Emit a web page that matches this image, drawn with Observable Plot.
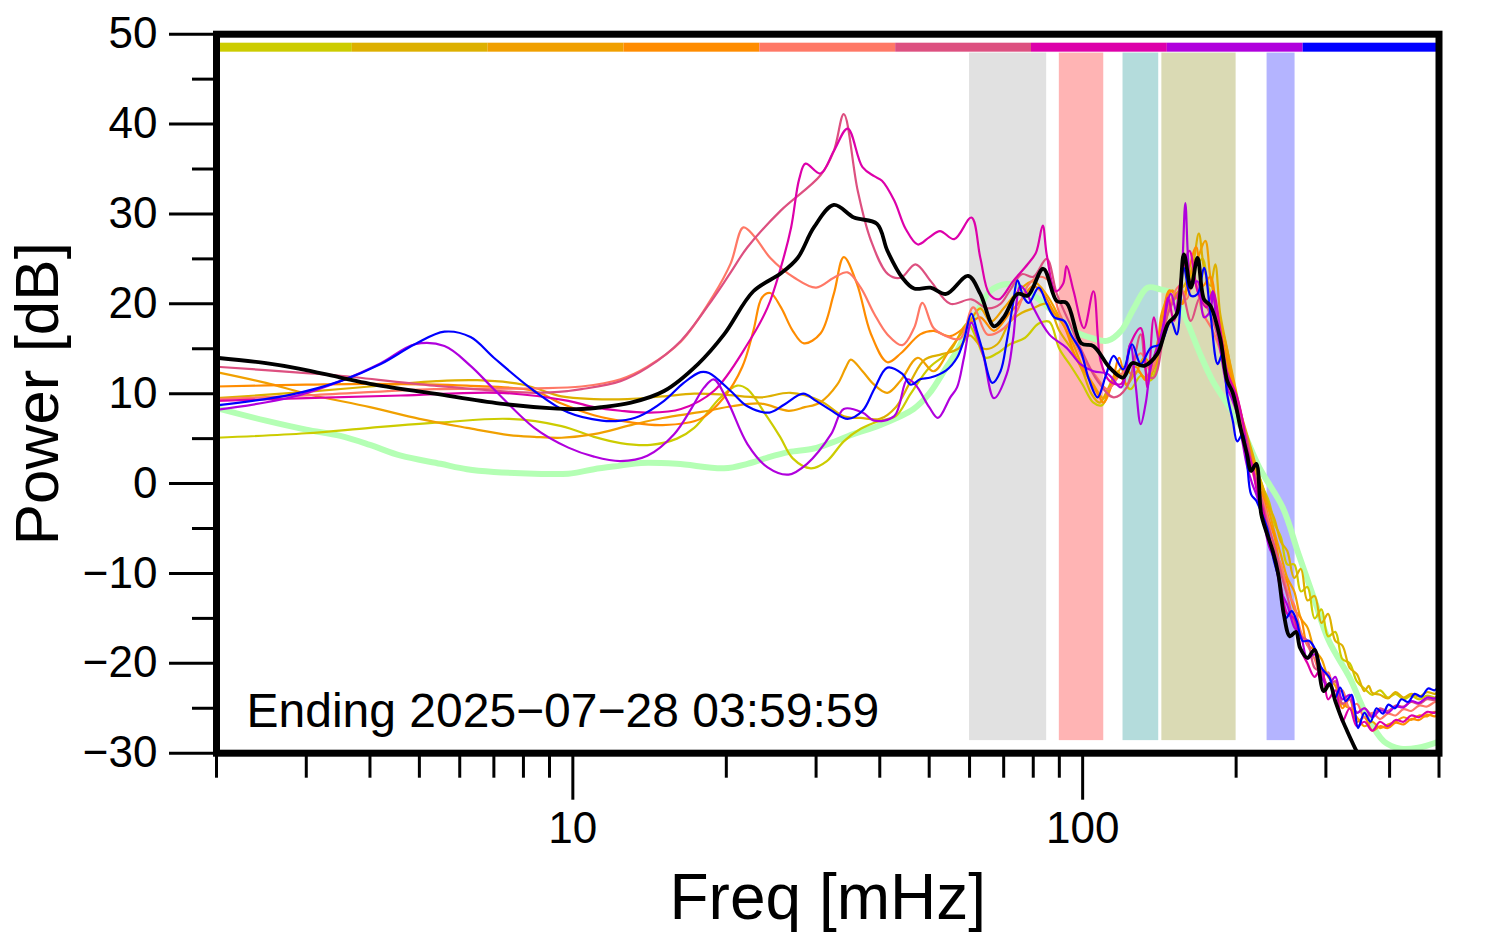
<!DOCTYPE html>
<html>
<head>
<meta charset="utf-8">
<script src="https://cdn.jsdelivr.net/npm/d3@7"></script>
<script src="https://cdn.jsdelivr.net/npm/@observablehq/plot@0.6"></script>
<style>
  html, body { margin: 0; padding: 0; background: #ffffff; }
  #chart svg { display: block; }
</style>
</head>
<body>
<div id="chart"></div>
<script>
// ---------------- data ----------------
const freqDomain = [2, 500];
const dbDomain = [-30, 50];
const yMajorTicks = [-30, -20, -10, 0, 10, 20, 30, 40, 50];
const yMinorTicks = [-25, -15, -5, 5, 15, 25, 35, 45];
const xMajorTicks = [10, 100];
const xMinorTicks = [2, 3, 4, 5, 6, 7, 8, 9, 20, 30, 40, 50, 60, 70, 80, 90, 200, 300, 400, 500];

const yLabel = "Power [dB]";
const xLabel = "Freq [mHz]";
const annotation = "Ending 2025\u221207\u221228 03:59:59";

// shaded frequency bands (mHz)
const bandLow = [60, 90, 120, 143, 230];
const bandHigh = [85, 110, 141, 200, 261];
const bandColors = ["#e1e1e1", "#ffb4b4", "#b4dcdc", "#dadab4", "#b4b4ff"];

// series colours (also the top colour strip, left to right)
const seriesNames = ["yellowGreen", "gold", "orange", "darkOrange", "salmon", "pink", "magenta", "purple", "blue"];
const seriesColors = ["#cccc00", "#ddb000", "#f0a000", "#ff8c00", "#ff7866", "#dd5080", "#dd00aa", "#b000dd", "#0000ff"];

const yellowGreen = [[2,5.1],[3,5.6],[4,6.2],[5.5,6.8],[7.5,7.2],[9.5,6.4],[11,5.2],[12.4,4.5],[14.2,4.3],[16,5],[17.3,6.2],[19.5,9.6],[21,10.9],[22,10.5],[24,7.5],[25.5,5.2],[27,2.8],[29.3,1.7],[31.5,2.5],[34,4.7],[36.7,6.1],[40,7],[43,7.5],[46,10],[50,12.9],[55,14.8],[59.5,17.8],[62,16],[64.5,14],[68,14.5],[72,15.5],[77,16.2],[82,17.8],[86,18],[90,15],[95,13],[100,11],[105,9],[109,8.7],[113,10.5],[118,12],[124,10.5],[130,12],[136,11.5],[142,15],[148,19.5],[154,21],[160,21.5],[166,24],[172,25],[176,22],[182,20],[188,16],[194,12],[200,9],[206,6.5],[210,5],[215,3],[220,1.5],[226,-0.5],[232,-2],[238,-4.5],[245,-6],[252,-9],[260,-9],[268,-12],[276,-11.5],[285,-15],[294,-14],[303,-17],[313,-16.5],[323,-19.5],[334,-20],[345,-22],[357,-22.8],[370,-23.5],[383,-23],[397,-23.8],[411,-23.4],[426,-24],[441,-23.6],[457,-24],[474,-23.6],[491,-23.8],[500,-23.5]];

const gold = [[2,9.5],[3,10.2],[4,10.8],[5.4,11.4],[6.5,11.5],[8,11],[9.5,9.7],[11,9.4],[12.8,9.4],[15,9.7],[17.3,10],[19.8,9.9],[23.4,9.6],[26.7,10.1],[30.6,9.2],[34,7.5],[36.7,7.3],[40,7.2],[43,8.5],[46,11.4],[49,13.8],[53,14.4],[57,15],[60,16.5],[64,15],[68,15.5],[72,18],[76,19],[80,19.5],[85,20],[90,17],[95,15],[100,12.5],[104,10],[108,9],[112,10.5],[117,12.5],[122,11],[128,12.5],[134,11.5],[140,14],[146,19],[152,21],[158,22],[164,24],[169,27.8],[173,24],[178,22],[182,24.4],[186,19],[192,15],[198,11],[204,8],[210,5.5],[215,3.5],[220,1.5],[226,-0.5],[232,-2.5],[238,-4],[245,-6.5],[252,-7.5],[260,-10.5],[268,-9.5],[276,-13],[285,-12.5],[294,-15.5],[303,-14.5],[313,-17.5],[323,-18],[334,-20.5],[345,-21.2],[357,-23.1],[364,-22.5],[370,-23.3],[383,-23.5],[397,-23.9],[411,-23.2],[426,-23.8],[441,-23.4],[457,-23.7],[474,-23.2],[491,-23.4],[500,-23.1]];

const orange = [[2,12.4],[2.5,11.2],[3,10],[4,8.5],[5,7.2],[6.2,6.2],[7.5,5.4],[8.4,5.2],[9.5,5.1],[11,5.5],[13,6.5],[15,7.3],[18,8.0],[20.5,8.6],[23.4,8.9],[26.5,8.1],[28.5,8.5],[30.5,9.0],[33,11],[34.3,12.9],[35.1,13.8],[37,12.5],[39,11],[41.4,10.1],[44,11.5],[47.5,14],[51,12.5],[55,15],[60,18],[63,19.5],[66,18],[70,19.5],[75,21.5],[80,22.5],[85,21],[90,18.5],[95,16],[100,13],[105,11],[110,9.5],[115,11.5],[120,13],[126,12],[132,14],[138,13],[143,19],[150,21.5],[156,20],[162,23],[168,25],[174,27],[178,23],[184,19],[190,16],[197,12],[204,8],[210,5],[215,3],[220,1],[226,-1],[232,-3],[238,-5.5],[245,-8],[252,-10.5],[260,-12],[268,-15],[276,-16],[285,-18.5],[294,-19.5],[303,-21.5],[313,-22.5],[323,-24.5],[334,-25],[345,-26],[357,-27],[370,-26.5],[383,-27.2],[397,-26.8],[411,-26.5],[426,-26],[441,-26.3],[457,-25.8],[474,-25.9],[491,-25.4],[500,-25.6]];

const darkOrange = [[2,10.8],[3,11],[4,11.1],[6.2,10.9],[8.4,10.3],[9.5,8.9],[11,7.6],[13,6.8],[15,6.5],[17.8,7.2],[19.8,9.6],[21.5,13],[22.6,17],[23.5,20.7],[24.4,21.2],[25.6,19.6],[27,17],[28.4,15.6],[30.6,16.7],[32.5,21.1],[34,25.2],[36.1,22.2],[38.4,16.7],[41.4,13.5],[44,14.5],[48,16.6],[51,17],[55,16.4],[60,17.8],[63,18.5],[67,17],[72,19],[76,20.5],[80,22],[84,21],[88,19],[92,17.5],[97,14],[102,12],[107,10],[110,9],[114,11],[118,14],[122,11],[127,13],[133,11.5],[138,14],[143,18],[148,21.5],[152,21],[157,20],[162,24],[167,26.3],[172,22],[178,23],[184,18],[190,15],[197,11],[204,8],[210,4.5],[215,2.5],[220,0],[226,-1.5],[232,-4],[238,-6],[245,-9.5],[252,-11],[260,-14],[268,-15],[276,-18],[285,-18.5],[294,-21],[303,-22.5],[313,-22],[323,-25],[334,-24],[345,-26.5],[357,-26],[370,-27.5],[383,-27],[397,-27.2],[411,-26.6],[426,-26.8],[441,-26.2],[457,-26.3],[474,-25.7],[491,-25.9],[500,-25.5]];

const salmon = [[2,9.4],[3,9.8],[5.35,10.5],[8.4,10.6],[10.4,10.8],[12.4,11.6],[14,13],[16.3,15.8],[18.9,21],[20.4,24.5],[21.6,28.5],[22.7,27.5],[24.4,25.1],[27.2,22.9],[30,21.8],[32.5,22.9],[34.6,23.5],[36.7,21.8],[39,18.9],[41.4,16.6],[44.3,15.4],[46.7,17.3],[48.5,20.1],[51,17.3],[54,16.4],[57.5,16.1],[61,19.6],[65,16.6],[69,17],[74,19],[78,22],[82,23],[86,22.5],[90,19],[95,16.5],[100,14],[106,12],[112,10.5],[118,12],[124,13],[130,14.5],[136,12.5],[142,16],[148,20],[155,22],[160,20.5],[165,23],[172,19],[180,17],[188,14],[196,10],[204,7],[210,4],[215,1.5],[220,-0.5],[226,-2],[232,-4.5],[238,-7.5],[245,-9],[252,-12],[260,-13.5],[268,-16.5],[276,-18],[285,-19.5],[294,-21.5],[303,-21],[313,-23.5],[323,-23],[334,-25],[345,-24.5],[357,-26],[370,-25.5],[383,-26.2],[397,-25.6],[411,-25.8],[426,-25.1],[441,-25.3],[457,-24.7],[474,-24.8],[491,-24.3],[500,-24.3]];

const pink = [[2,13.0],[3,12.3],[3.5,12.0],[5.35,10.9],[8.4,10.1],[9.8,10.3],[10.4,10.5],[12.4,11.4],[14,12.9],[16.3,15.9],[18.9,20.7],[20.4,23.5],[22,26.3],[25.6,30.4],[30.6,34.3],[32.5,37],[34,41.1],[36.2,32.6],[38.4,27.1],[41.5,23.3],[44,22.9],[47,24.4],[50.4,22.5],[55,20],[60.5,20.5],[65,19.5],[69,20],[72,21.5],[76,23.3],[80,23],[85,25],[89,21.1],[94,18],[99,15.1],[107,11.4],[115,9.6],[122,10.7],[130,16.6],[134,12],[138,11.8],[147,18.9],[156,21.4],[163,18.1],[170,20.7],[180,18.1],[192,12.2],[204,7.7],[210,5],[215,2],[220,0],[226,-2.5],[232,-5],[238,-7],[245,-10],[252,-12.5],[260,-15.5],[268,-17],[276,-17.5],[285,-20.5],[294,-21],[303,-22.5],[313,-22],[323,-24.5],[334,-24],[345,-25.5],[357,-25],[370,-25.8],[383,-25],[397,-25.3],[411,-24.7],[426,-24.8],[441,-24.3],[457,-24.5],[474,-24],[491,-24.1],[500,-23.8]];

const magenta = [[2,9.2],[3,9.5],[4.6,9.8],[7.2,10.1],[9.8,9.2],[11,8.5],[12.4,8.1],[14,7.9],[16.3,8.3],[18.9,10.3],[22,15.5],[24.1,19.6],[25.6,24.1],[26.8,28.5],[27.8,33.9],[28.6,35.6],[30.6,34.5],[32.5,37],[34.6,39.5],[37,35.2],[39,34.2],[40.4,33.7],[42.7,31.5],[45,28.3],[47.5,26.6],[50,27.4],[52.5,28.1],[56,27.2],[60.5,29.6],[63,25.1],[65.6,21.1],[68.5,20.5],[73,22.5],[78,24.4],[81,25.7],[83.5,28.7],[85,25.5],[88.5,21.4],[91.5,22.2],[93,24.2],[96,21.4],[100.6,17.3],[105,21.4],[108.5,13.6],[113,11.4],[119,11.1],[124,15.5],[130,17.3],[134,10.7],[138,18.5],[142,15.1],[147,20.7],[151,18.1],[156,22.9],[162,25.9],[168,21.4],[175,19.6],[180,21.4],[186,17.3],[192,12.5],[201,9.6],[206,7],[210,4],[215,2],[220,-1],[226,-3],[232,-6.5],[238,-8],[245,-11.5],[252,-14.5],[260,-15],[268,-18.5],[276,-20],[285,-21.5],[294,-20.5],[303,-24],[313,-23],[323,-26.5],[334,-25],[345,-27],[357,-26.5],[370,-27.5],[383,-26.5],[397,-27],[411,-26.3],[426,-26.5],[441,-25.8],[457,-26],[474,-25.4],[491,-25.5],[500,-25.1]];

const purple = [[2,8.2],[2.8,9.6],[3.5,11.4],[4.2,13.4],[4.9,15.5],[5.6,15.3],[6.3,13.1],[7,10.5],[8.4,6.2],[9.8,4.0],[11,3.0],[12.4,2.5],[14,3.1],[15.8,5.5],[17.1,8.4],[18.1,10.7],[18.9,11.6],[20.1,9.2],[22,4.4],[24.1,1.8],[26.5,1.0],[28.8,2.2],[32.1,5.5],[34,8.3],[37,7.9],[39,7.0],[42.7,7.5],[45.3,11.6],[47,11.0],[50,8.5],[52,7.3],[55,9.6],[56.7,10.7],[58.5,14],[60.5,17.9],[62,16.5],[64,14],[67,9.5],[71,12.2],[73,16],[75.5,22],[78,21],[80,19.6],[86,16.6],[93,15.1],[99,13.3],[105,12.5],[112,12.2],[119,10.7],[124,15.5],[127,11],[130,6.6],[133,9],[136,12.9],[142,16.2],[149,21.1],[153,18.9],[156,22],[159,31.2],[161,25],[163,22.2],[168,22.5],[173,18.5],[178,19.2],[180,21.4],[183,18],[186,15.1],[192,10.7],[196,9.5],[201,7.7],[206,4.5],[210,2],[215,0],[220,-1.5],[226,-4],[232,-7],[238,-8.5],[245,-12],[252,-13.5],[260,-16],[268,-17],[276,-19.5],[285,-19],[294,-21.5],[303,-22.5],[313,-21.5],[323,-24],[334,-23.5],[345,-25.5],[357,-25],[370,-26],[383,-25.2],[397,-25.5],[411,-24.8],[426,-24.9],[441,-24.2],[457,-24.4],[474,-23.8],[491,-23.9],[500,-23.5]];

const blue = [[2,8.7],[2.8,9.9],[3.5,11.4],[4.2,13.3],[4.9,15.5],[5.6,16.9],[6.3,16.3],[7,14.0],[8.4,10.3],[9.8,7.9],[11.4,7.0],[12.4,7.0],[13.5,7.5],[15.1,9.2],[16.5,11.2],[17.8,12.4],[18.5,12.3],[20.4,10.3],[22,8.6],[24.3,7.9],[26,8.8],[28.3,10],[30,9.2],[32,8.2],[34.6,7.2],[37,8.1],[39,10.5],[41.4,12.9],[44.3,12.2],[46,11.0],[48,11.6],[50.3,11.8],[54,12.6],[56.7,14],[58.5,16],[60.5,18.9],[62,17],[63.5,15],[66.5,11.2],[69,12.5],[71,15.9],[73,20],[74.5,22.6],[76.5,20.8],[78.4,20.1],[82,21.8],[85,20],[88,18.5],[92,18.1],[95,16.5],[99,14.8],[103,11.5],[107,9.6],[111,12],[115,14.2],[120,12.7],[125,15.5],[130,13.3],[136,15.1],[142,15.5],[149,18.1],[153,16.6],[158,24.0],[163,20.9],[168,21.1],[173,24.0],[178,19.0],[184,13.3],[188,14.4],[192,10],[197,7],[201,4.7],[206,5.5],[210,2.5],[214,-1.2],[219,-1.9],[224,-3.2],[230,-4.9],[237,-8.5],[243,-10.8],[250,-15],[257,-14.2],[263,-15.3],[270,-17.5],[278,-17.5],[285,-18.3],[294,-20.5],[305,-21.6],[313,-23.8],[320,-22.7],[328,-24.2],[337,-23.5],[347,-27.2],[357,-25.5],[367,-26.5],[377,-25],[388,-25.6],[398,-24.6],[410,-25],[422,-24],[435,-24.3],[448,-23.4],[462,-23.7],[476,-22.8],[490,-23],[500,-22.5]];

const mean = [[2,14.0],[2.5,13.4],[2.9,12.8],[3.5,11.8],[4,11.1],[5.35,10],[7.2,8.9],[9,8.4],[10.4,8.3],[11.4,8.5],[13,9.0],[15.1,10.3],[17.6,13.3],[19.8,16.6],[22.6,21.4],[25.6,23.4],[27.6,25.1],[29.7,28.5],[32.5,31],[35.6,29.6],[39.5,28.9],[41.4,25.9],[44.3,22.9],[46.7,21.7],[50.3,21.8],[54,21.1],[59.6,23.1],[63,21.1],[67,17.5],[70,18.5],[74.5,21.1],[78,20.9],[83.7,23.9],[89,20.3],[93,20.1],[99.4,15.6],[105,15.3],[113,12.9],[120,11.8],[125,13.4],[132,13.1],[140,14.4],[147,17.8],[153,18.9],[158,25.5],[163,21.8],[168,25.1],[173,20.5],[178,19.8],[186,16.2],[192,11.5],[197,10.1],[204,6.2],[210,3.3],[214,1.4],[219,2.2],[224,-3.4],[230,-5.6],[236,-7.5],[242,-10.1],[248,-14.5],[255,-17.0],[262,-16.5],[267,-18.3],[276,-19.4],[285,-18.5],[297,-23.1],[305,-22.3],[313,-24.2],[322,-26.1],[330,-27.5],[342,-29.4],[350,-30.5],[360,-33]];

const reference = [[2,8.4],[2.5,7],[3,6],[3.5,5.3],[4,4.3],[4.6,3.1],[5.5,2.2],[6.2,1.6],[7,1.3],[8.4,1.1],[9.8,1.1],[11,1.6],[12.4,2],[13.6,2.3],[16,2.2],[19.8,1.7],[22,2.2],[24.1,2.9],[26.5,3.5],[29.7,3.9],[32,4.5],[35.5,5.5],[40,6.5],[46.6,8.3],[50,10],[54,12.9],[57,15],[59.6,17.3],[62,19],[65.8,21.4],[71,22.2],[76,21.8],[80,21],[86,19.5],[96,17],[104,16.2],[112,15.9],[119,17],[126,19.5],[134,21.8],[142,21.6],[151,21.1],[160,18.1],[170,14.4],[180,11.4],[192,8.9],[205,6.2],[222,1.8],[247,-2.7],[265,-7.8],[284,-12.7],[304,-17.5],[334,-21.6],[360,-25.7],[390,-28.7],[420,-29.5],[455,-29.4],[500,-28.7]];

// ---------------- build tables ----------------
const seriesData = [yellowGreen, gold, orange, darkOrange, salmon, pink, magenta, purple, blue];
const colourRows = seriesData.flatMap((arr, i) =>
  arr.map(([f, db]) => ({f, db, s: seriesNames[i], color: seriesColors[i]})));
const meanRows = mean.map(([f, db]) => ({f, db}));
const refRows = reference.map(([f, db]) => ({f, db}));
const bands = bandLow.map((lo, i) => ({lo, hi: bandHigh[i], color: bandColors[i]}));

// colour strip: equal steps across the log x domain
const ratio = freqDomain[1] / freqDomain[0];
const strip = seriesColors.map((c, i) => ({
  lo: freqDomain[0] * Math.pow(ratio, i / seriesColors.length),
  hi: freqDomain[0] * Math.pow(ratio, (i + 1) / seriesColors.length),
  color: c
}));

const fmt = d => (d < 0 ? "\u2212" + Math.abs(d) : String(d));
const fontFamily = "'Liberation Sans', Arial, Helvetica, sans-serif";

const chart = Plot.plot({
  width: 1494,
  height: 952,
  marginLeft: 216,
  marginRight: 55.5,
  marginTop: 33.7,
  marginBottom: 199.3,
  x: {type: "log", domain: freqDomain},
  y: {domain: dbDomain},
  color: {type: "identity"},
  style: {fontFamily, background: "#ffffff", color: "#000000"},
  marks: [
    Plot.rect(bands, {x1: "lo", x2: "hi", y1: -28.6, y2: 47.9, fill: "color"}),
    Plot.rect(strip, {x1: "lo", x2: "hi", y1: 48.0, y2: 49.0, fill: "color"}),
    Plot.line(refRows, {x: "f", y: "db", stroke: "#b4ffb4", strokeWidth: 6, curve: "catmull-rom", clip: true}),
    Plot.line(colourRows, {x: "f", y: "db", z: "s", stroke: "color", strokeWidth: 2.2, curve: "catmull-rom", clip: true}),
    Plot.line(meanRows, {x: "f", y: "db", stroke: "#000000", strokeWidth: 3.8, curve: "catmull-rom", clip: true}),
    Plot.frame({stroke: "#000000", strokeWidth: 7}),
    Plot.axisY(yMajorTicks, {anchor: "left", tickSize: 47, tickPadding: 12, fontSize: 44, strokeWidth: 3, tickFormat: fmt, label: null}),
    Plot.axisY(yMinorTicks, {anchor: "left", tickSize: 24, strokeWidth: 3, tickFormat: () => "", label: null}),
    Plot.axisX(xMajorTicks, {anchor: "bottom", tickSize: 47, tickPadding: 12, fontSize: 44, strokeWidth: 3, tickFormat: d => String(d), label: null}),
    Plot.axisX(xMinorTicks, {anchor: "bottom", tickSize: 25, strokeWidth: 3, tickFormat: () => "", label: null}),
    Plot.text([yLabel], {frameAnchor: "left", dx: -178, rotate: -90, textAnchor: "middle", lineAnchor: "middle", fontSize: 62, text: d => d, fill: "#000000"}),
    Plot.text([xLabel], {frameAnchor: "bottom", dy: 145, textAnchor: "middle", lineAnchor: "middle", fontSize: 64, text: d => d, fill: "#000000"}),
    Plot.text([annotation], {frameAnchor: "bottom-left", dx: 30, dy: -42, textAnchor: "start", lineAnchor: "middle", fontSize: 48, text: d => d, fill: "#000000"})
  ]
});

document.getElementById("chart").appendChild(chart);
</script>
</body>
</html>
